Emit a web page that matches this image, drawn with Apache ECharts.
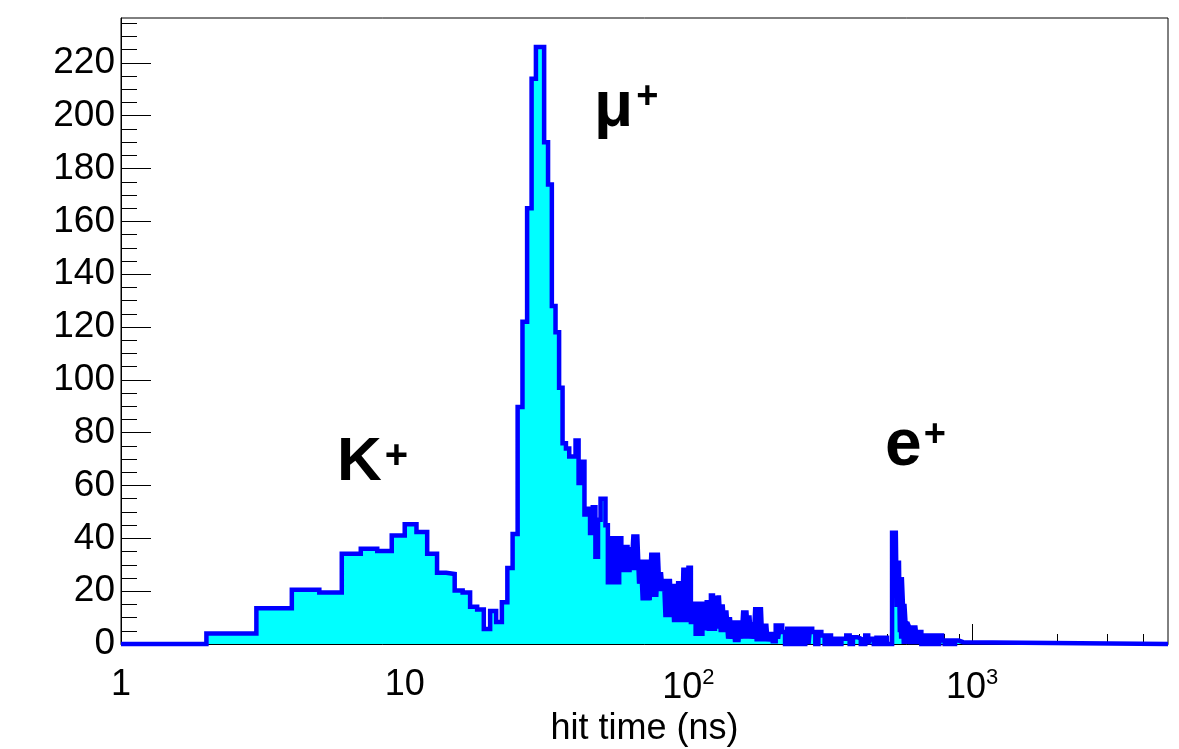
<!DOCTYPE html>
<html>
<head>
<meta charset="utf-8">
<script src="https://cdn.jsdelivr.net/npm/echarts@6/dist/echarts.min.js"></script>
<style>
html,body{margin:0;padding:0;background:#fff;}
#main{width:1179px;height:749px;}
</style>
</head>
<body>
<div id="main"></div>
<script>
// histogram: lower bin edge (ns) and count in that bin
const kaonEdges = [1,2,3,4,5,6,7,8,9,10,11,12,13,14,15,16,17,18,19,20,21,22,23,24,25,26,27,28,29,30,31,32,33,34];
const kaonCounts = [0,4,13.5,20.5,19.5,34.2,36.1,35.2,41.1,45.3,42.4,34.2,27,26.5,20.3,19.5,14.1,13.1,5.7,12.5,8.3,15.8,28.8,41.6,89.7,122,165,214,226,226,190,174,128,118];

const muonEdges = [35,36,37,38,39,40,41,42,43,44,45,46,47,48,49,
  50,51,52,53,54,55,56,57,58,59,60,61,62,63,64,65,66,67,68,69,70,71,72,73,74,75,76,77,78,79,80,81,82,83,84,85,86,87,88,89,90,91,92,93,94,95,96,97,98,99,
  100,102,104,106,108,110,112,114,116,118,120,122,124,126,128,130,132,134,136,138,140,142,144,146,148,150,152,154,156,158,160,162,164,166,168,170,172,174,176,178,180,182,184,186,188,190,192,194,196,198,200];
const muonCounts = [97,76,74,71,71,77,61,69,49,51.2,42,51.8,33,47,55,
  55,45,23.4,40,23.4,40,23.4,40,34.2,28,36.7,28,36.7,28,41.5,28,41.5,22.8,32,16.5,32,16.5,32,16.5,34.6,17.8,34.6,17.8,34.6,20,27.2,20,24.7,10.2,24.7,10.2,24.7,10.2,22.8,8.3,22.8,8.3,23.8,8.3,23.8,8.3,28.9,8.3,28.9,8.3,
  28.9,8.3,15.2,3.9,15.2,3.9,15.2,6,15.8,5.8,18.4,5.8,18.4,5.8,18.4,4.5,15,4.5,12.7,2,10.2,2,8.9,0.7,8.9,0.7,8.9,2,12.7,2,12.7,2,10.8,2,8.3,2,14,1,14,1,14,1,7.7,1,7.7,1,4.5,1,4.5,1,1];

const lateEdges = [203,207,210,214,219,223,230,236,243,248,253,258,265,268,273,280,287,294,302,310,318,326,336,346,360,370,380,395,405,420,430,437,450,460,475,485];
const lateCounts = [7,2,7,4.5,0,5.8,0,5.8,0,5.8,0,5.8,0,5.8,4.5,0,4.5,3.2,0,3.2,0,2,0,2,3.2,0,2.6,2,0,3.2,0,2,0,2.4,0,2.4];

const elecEdges = [501,522,527,530,535,538,542,545,549,552,556,558,562,565,570,574,577,582,586,590,597,605,612,620,630,640,648,662,676,690,705,720,735,750,765,783,800,815,840,870,896,930];
const elecCounts = [0,43,20,43,20,43,14,31.6,14,31.6,4.5,25.3,2,25.3,15.2,0,15.2,8.3,0,8.3,7,0,7,0,7,0,4.5,0,3.2,0,3.2,0,3.2,0,3.2,1.3,0,1.3,0,1.3,0.7,0];

const xEnd = 4900;
const yMax = 237;
const yMajor = [0,20,40,60,80,100,120,140,160,180,200,220];
const yMinor = [5,10,15,25,30,35,45,50,55,65,70,75,85,90,95,105,110,115,125,130,135,145,150,155,165,170,175,185,190,195,205,210,215,225,230,235];
const xMajor = [1,10,100,1000];
const xMinor = [2,3,4,5,6,7,8,9,20,30,40,50,60,70,80,90,200,300,400,500,600,700,800,900,2000,3000,4000];

const edges = kaonEdges.concat(muonEdges, lateEdges, elecEdges);
const counts = kaonCounts.concat(muonCounts, lateCounts, elecCounts);
const pts = edges.map((e, i) => [e, counts[i]]);
pts.push([xEnd, counts[counts.length - 1]]);

const font = '"Liberation Sans", Arial, sans-serif';

function tag(main, size, supSize, lift, gap) {
  return {
    text: '{b|' + main + '}{p|+}',
    rich: {
      b: { fontFamily: font, fontSize: size, fontWeight: 'bold', fill: '#000' },
      p: { fontFamily: font, fontSize: supSize, fontWeight: 'bold', fill: '#000', padding: [0, 0, lift, gap] }
    }
  };
}

const chart = echarts.init(document.getElementById('main'));
chart.setOption({
  animation: false,
  backgroundColor: '#fff',
  grid: {
    left: 121, top: 18, width: 1047, height: 626,
    outerBoundsMode: 'none', containLabel: false,
    show: true, borderColor: '#000', borderWidth: 1
  },
  xAxis: [
    {
      type: 'log', logBase: 10, min: 1, max: xEnd,
      name: 'hit time (ns)', nameLocation: 'middle', nameGap: 60,
      nameTextStyle: { fontFamily: font, fontSize: 36, color: '#000' },
      axisLine: { lineStyle: { color: '#000', width: 1 } },
      axisTick: { inside: true, length: 20, customValues: xMajor, lineStyle: { color: '#000' } },
      axisLabel: {
        customValues: xMajor, margin: 23, color: '#000', fontFamily: font, fontSize: 36,
        formatter: v => v >= 100 ? '10{s|' + Math.round(Math.log10(v)) + '}' : String(v),
        rich: { s: { fontFamily: font, fontSize: 22, color: '#000', padding: [0, 0, 20, 0] } }
      },
      splitLine: { show: false }
    },
    {
      type: 'log', logBase: 10, min: 1, max: xEnd, position: 'bottom',
      axisLine: { show: false },
      axisTick: { inside: true, length: 10, customValues: xMinor, lineStyle: { color: '#000' } },
      axisLabel: { show: false },
      splitLine: { show: false }
    }
  ],
  yAxis: [
    {
      type: 'value', min: 0, max: yMax, interval: 20,
      axisLine: { show: true, lineStyle: { color: '#000', width: 1 } },
      axisTick: { inside: true, length: 30, customValues: yMajor, lineStyle: { color: '#000' } },
      axisLabel: { customValues: yMajor, margin: 6, color: '#000', fontFamily: font, fontSize: 37 },
      splitLine: { show: false }
    },
    {
      type: 'value', min: 0, max: yMax, interval: 20, position: 'left',
      axisLine: { show: false },
      axisTick: { inside: true, length: 16, customValues: yMinor, lineStyle: { color: '#000' } },
      axisLabel: { show: false },
      splitLine: { show: false }
    }
  ],
  series: [{
    type: 'line', step: 'end', data: pts, symbol: 'none', clip: false,
    xAxisIndex: 0, yAxisIndex: 0,
    lineStyle: { color: '#0000ff', width: 4.5, join: 'miter', miterLimit: 2 },
    areaStyle: { color: '#00ffff', opacity: 1 }
  }],
  graphic: [
    { type: 'text', left: 337, top: 432, style: tag('K', 62, 40, 12, 3) },
    { type: 'text', left: 594, top: 76, style: tag('\u03bc', 64, 38, 20, 3) },
    { type: 'text', left: 885, top: 414, style: tag('e', 66, 38, 22, 2) }
  ]
});
</script>
</body>
</html>
